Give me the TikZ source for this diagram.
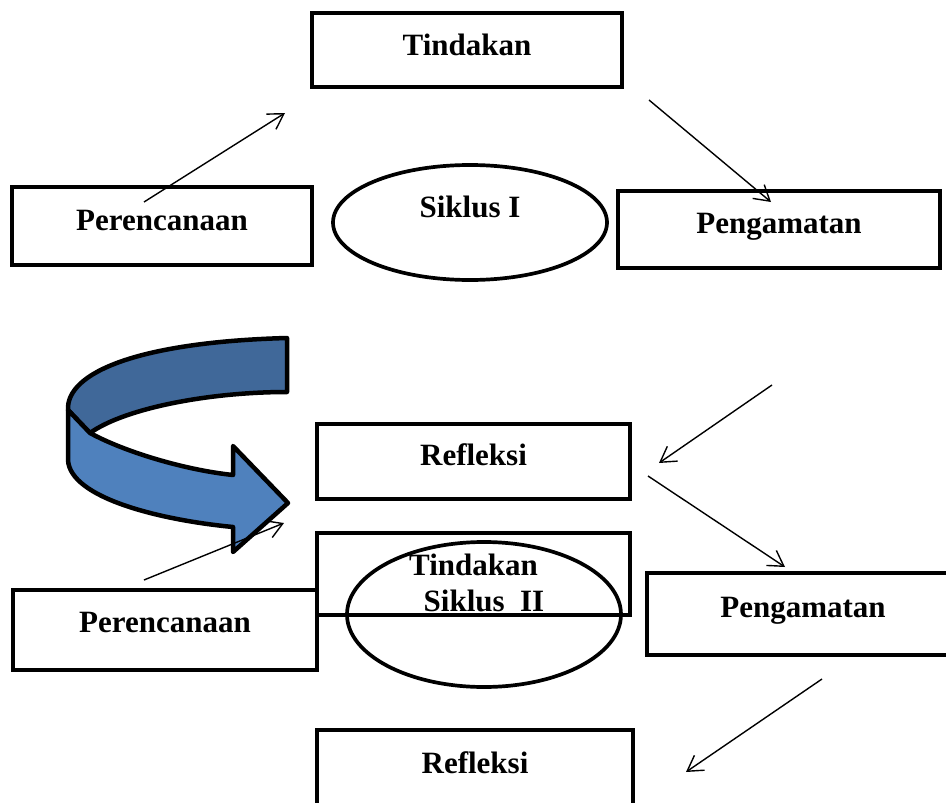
\documentclass[tikz,border=0pt]{standalone}
\usepackage{fontspec}
\setmainfont{Liberation Serif}
\usepackage{xcolor}
\usepackage{tikz}
\usetikzlibrary{shapes.geometric}
\usetikzlibrary{arrows.meta}

\definecolor{backband}{RGB}{64,104,153}
\definecolor{frontband}{RGB}{79,129,189}

\begin{document}
\begin{tikzpicture}[x=1pt, y=-1pt,
        stage/.style = {draw, rectangle, line width=4pt, inner sep=0pt,
            font=\fontsize{31}{36}\selectfont\bfseries, text height=20pt},
        cycle/.style = {draw, ellipse, line width=3.7pt, inner sep=0pt,
            font=\fontsize{31}{36}\selectfont\bfseries, text height=20pt},
        flow/.style = {line width=1.4pt, -{Straight Barb[length=15pt, width=18pt]}}]
        \clip (0, 0) rectangle (946, 803);

        \filldraw [fill = backband, line width = 4.5pt, line join = round]
            (287, 338) -- (287, 392) .. controls (210, 392) and (125, 408) .. (90, 433)
            -- (68, 410) .. controls (66, 372) and (140, 342) .. (287, 338) -- cycle;
        \filldraw [fill = frontband, line width = 4.5pt, line join = round]
            (68, 410) -- (90, 433) .. controls (125, 452) and (185, 470) .. (233, 475)
            -- (233, 446) -- (288, 503) -- (233, 552) -- (233, 527)
            .. controls (160, 520) and (70, 498) .. (68, 460) -- cycle;

        \node [stage, minimum width = 310, minimum height = 74, text depth = 9pt]
            (tind1) at (467, 49.5) {Tindakan};
        \node [stage, minimum width = 300, minimum height = 78, text depth = 12pt]
            (pere1) at (162, 226) {Perencanaan};
        \node [cycle, minimum width = 274, minimum height = 115, text depth = 30pt]
            (siklus1) at (470, 222.5) {Siklus I};
        \node [stage, minimum width = 322, minimum height = 77, text depth = 13pt]
            (peng1) at (779, 229.5) {Pengamatan};
        \node [stage, minimum width = 313, minimum height = 75, text depth = 13pt]
            (refl1) at (473.5, 461.5) {Refleksi};

        \node [stage, minimum width = 313, minimum height = 82, text depth = 18pt]
            (tind2) at (473.5, 574) {Tindakan};
        \node [cycle, minimum width = 274, minimum height = 145, text depth = 26pt]
            (siklus2) at (484, 614.5) {Siklus~~II};
        \node [stage, minimum width = 304, minimum height = 80, text depth = 15pt]
            (pere2) at (165, 630) {Perencanaan};
        \node [stage, minimum width = 312, minimum height = 82, text depth = 13pt]
            (peng2) at (803, 614) {Pengamatan};
        \node [stage, minimum width = 316, minimum height = 80, text depth = 13pt]
            (refl2) at (475, 770) {Refleksi};

        \coordinate (a1) at (144, 202);
        \coordinate (b1) at (285, 113);
        \coordinate (a2) at (649, 100);
        \coordinate (b2) at (771, 202);
        \coordinate (a3) at (772, 385);
        \coordinate (b3) at (659, 463);
        \coordinate (a4) at (648, 476);
        \coordinate (b4) at (785, 567);
        \coordinate (a5) at (144, 580);
        \coordinate (b5) at (284, 523);
        \coordinate (a6) at (822, 679);
        \coordinate (b6) at (686, 772);

        \draw [flow] (a1) -- (b1);
        \draw [flow] (a2) -- (b2);
        \draw [flow] (a3) -- (b3);
        \draw [flow] (a4) -- (b4);
        \draw [flow] (a5) -- (b5);
        \draw [flow] (a6) -- (b6);
\end{tikzpicture}
\end{document}
